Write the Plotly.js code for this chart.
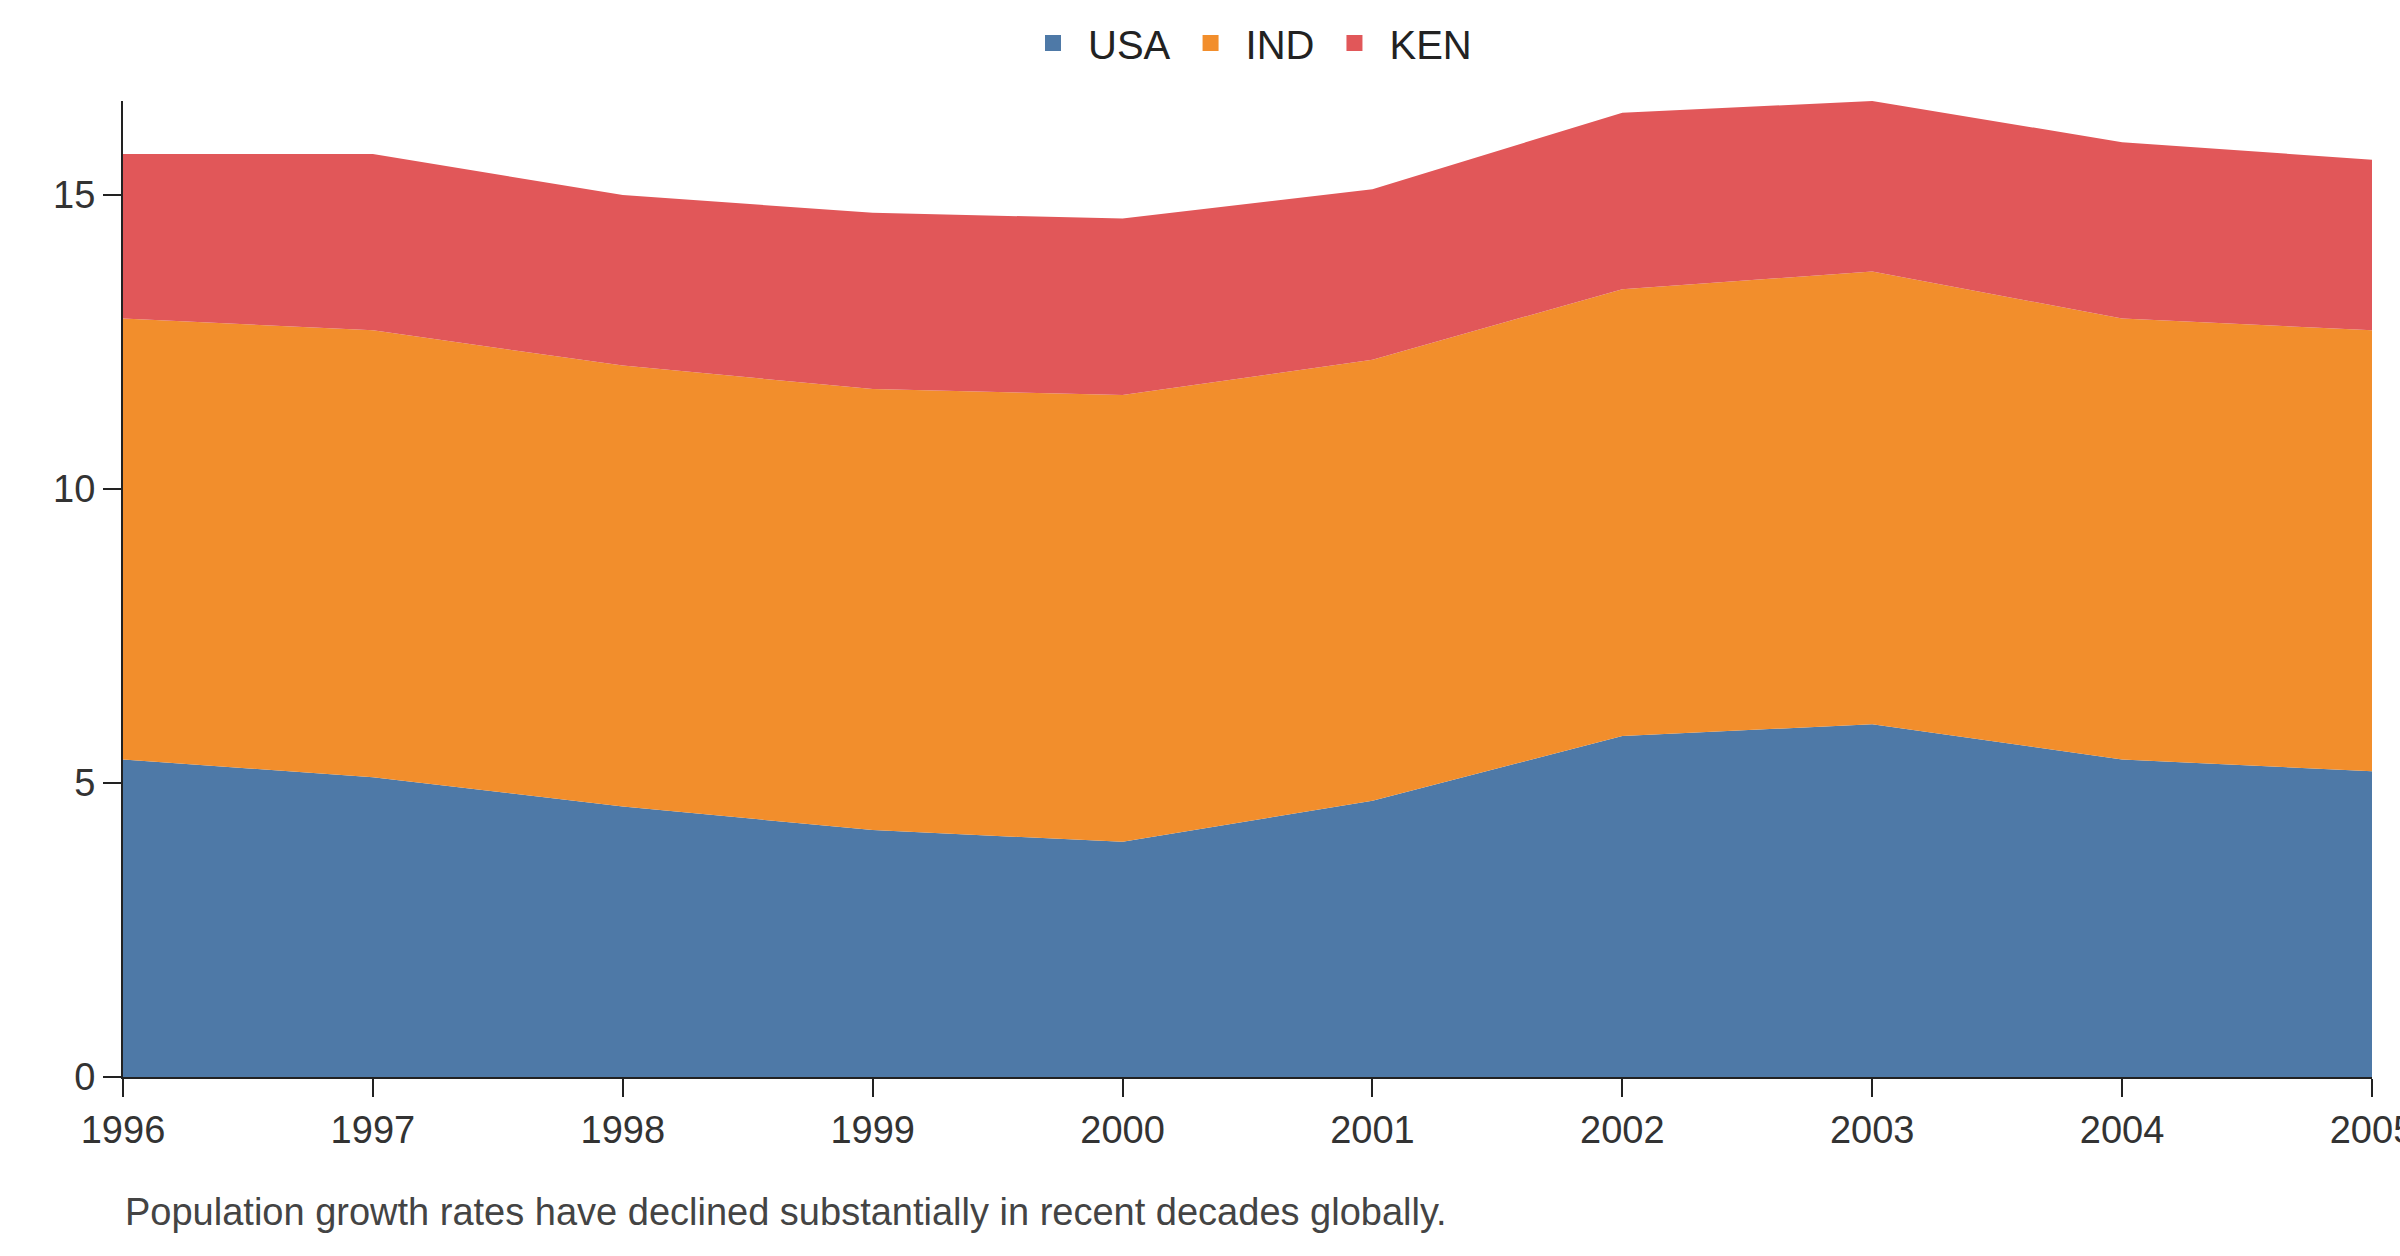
<!DOCTYPE html>
<html>
<head>
<script src="https://cdn.plot.ly/plotly-3.0.1.min.js"></script>
<style>body{margin:0;background:#fff}</style>
</head>
<body>
<div id="chart" style="width:2400px;height:1256px"></div>
<script>
var years = ['1996','1997','1998','1999','2000','2001','2002','2003','2004','2005'];
var usa = [5.4, 5.1, 4.6, 4.2, 4.0, 4.7, 5.8, 6.0, 5.4, 5.2];
var ind = [7.5, 7.6, 7.5, 7.5, 7.6, 7.5, 7.6, 7.7, 7.5, 7.5];
var ken = [2.8, 3.0, 2.9, 3.0, 3.0, 2.9, 3.0, 2.9, 3.0, 2.9];
var names = ['USA', 'IND', 'KEN'];
var colors = ['#4e79a7', '#f28e2c', '#e15759'];

var data = [];
[usa, ind, ken].forEach(function (y, i) {
  data.push({x: years, y: y, name: names[i], type: 'scatter', mode: 'lines', stackgroup: 'one',
    line: {width: 0, color: colors[i]}, fillcolor: colors[i], showlegend: false});
});
// legend entries with square swatches
names.forEach(function (n, i) {
  data.push({x: [null], y: [null], name: n, type: 'scatter', mode: 'markers',
    marker: {symbol: 'square', size: 30, color: colors[i]}});
});

var layout = {
  width: 2400, height: 1256,
  margin: {l: 123, r: 28, t: 100, b: 179},
  font: {family: 'Liberation Sans, Arial, sans-serif', size: 36, color: '#333'},
  showlegend: true,
  legend: {orientation: 'h', traceorder: 'normal', x: 0.5, xanchor: 'center', y: 1.025, yanchor: 'bottom',
    font: {size: 40, color: '#222'}, itemwidth: 60, tracegroupgap: 40},
  xaxis: {type: 'category', range: [0, 9], showgrid: false, zeroline: false,
    showline: true, linecolor: '#222', linewidth: 2, ticks: 'outside', ticklen: 18,
    tickwidth: 2, tickcolor: '#222', tickfont: {size: 38}},
  yaxis: {range: [0, 16.6], showgrid: false, zeroline: false, showline: true,
    linecolor: '#222', linewidth: 2, ticks: 'outside', ticklen: 18, tickwidth: 2,
    tickcolor: '#222', tickvals: [0, 5, 10, 15], tickfont: {size: 38}},
  annotations: [{text: 'Population growth rates have declined substantially in recent decades globally.',
    xref: 'paper', yref: 'paper', x: 0, y: -0.115, xanchor: 'left', yanchor: 'top',
    showarrow: false, font: {size: 38, color: '#444'}}]
};

Plotly.newPlot('chart', data, layout, {displayModeBar: false});
</script>
</body>
</html>
